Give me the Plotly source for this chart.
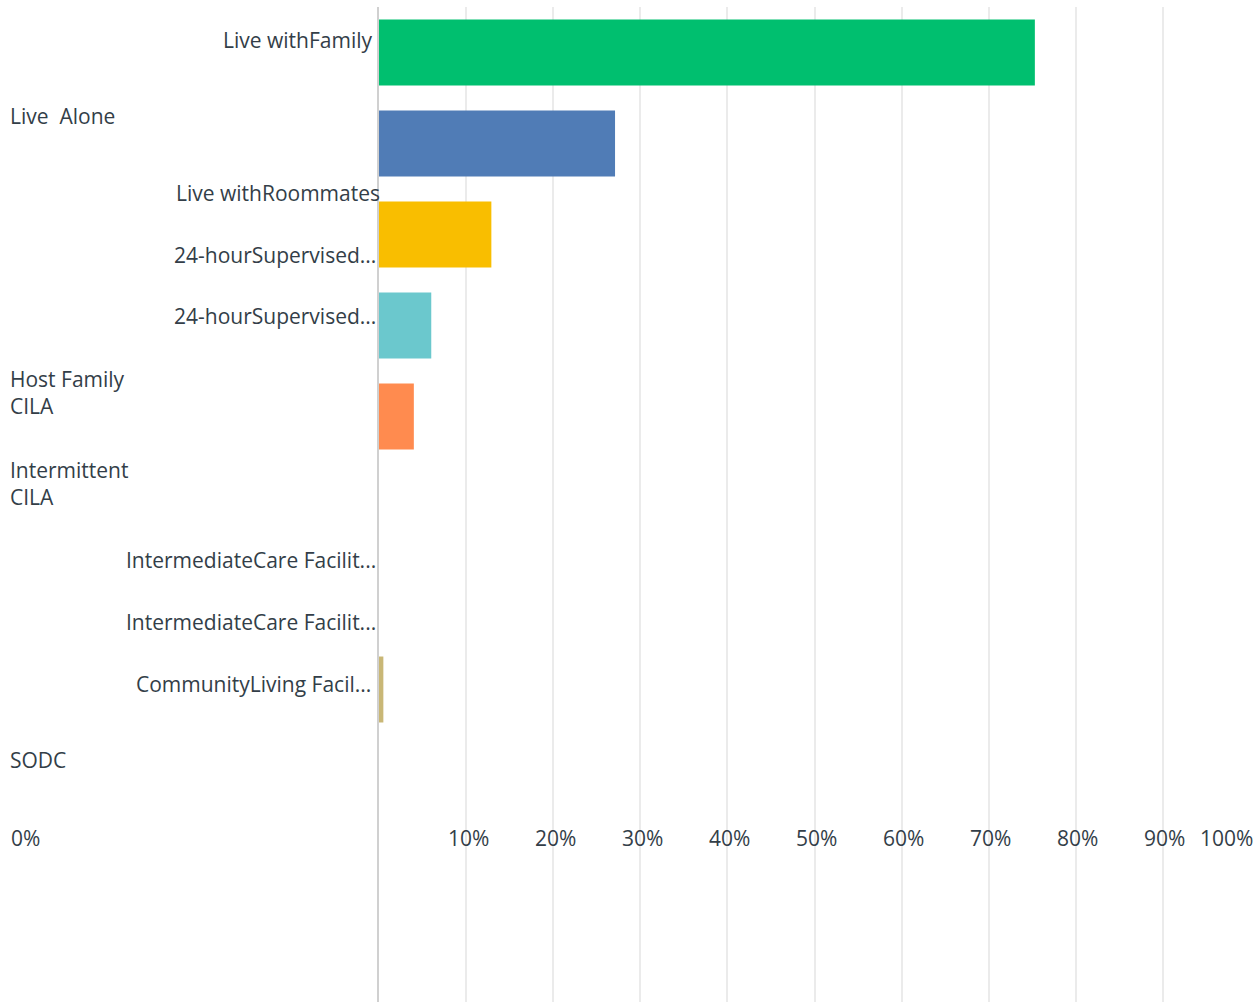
import plotly.graph_objects as go

# Survey answer choices, top to bottom, and share of respondents (%)
categories = [
    "Live withFamily",
    "Live  Alone",
    "Live withRoommates",
    "24-hourSupervised... (A)",
    "24-hourSupervised... (B)",
    "Host Family CILA",
    "Intermittent CILA",
    "IntermediateCare Facilit... (A)",
    "IntermediateCare Facilit... (B)",
    "CommunityLiving Facil...",
    "SODC",
]
shares = [75.3, 27.1, 12.9, 6.0, 4.0, 0.0, 0.0, 0.5, 0.0, 0.0, 0.0]
bar_colors = [
    "#00BF6F", "#507CB6", "#F9BE00", "#6BC8CD", "#FF8B4F",
    "#7D7CB8", "#E9707A", "#C9B776", "#A78A6B", "#9A9A9A", "#6B8E8E",
]
axis_labels = [
    "Live withFamily",
    "Live  Alone",
    "Live withRoommates",
    "24-hourSupervised...",
    "24-hourSupervised...",
    "Host Family<br>CILA",
    "Intermittent<br>CILA",
    "IntermediateCare Facilit...",
    "IntermediateCare Facilit...",
    "CommunityLiving Facil...",
    "SODC",
]
tick_values = [0, 10, 20, 30, 40, 50, 60, 70, 80, 90, 100]
tick_labels = ["0%", "10%", "20%", "30%", "40%", "50%", "60%", "70%", "80%", "90%", "100%"]

W, H = 1256, 1002
L, R, T, B = 379, 6, 7, 0
PW, PH = W - L - R, H - T - B

def px(x):
    return (x - L) / PW

def py(y):
    return (H - B - y) / PH

TEXT = "#333e48"
FONT = "Open Sans"
SIZE = 21

fig = go.Figure(
    go.Bar(
        x=shares,
        y=categories,
        orientation="h",
        marker=dict(color=bar_colors, line=dict(width=0)),
        hoverinfo="skip",
    )
)

# Category labels: (anchor x in px, anchor side, y centre in px)
label_layout = [
    (374, "right", 40),
    (8, "left", 116),
    (382, "right", 193),
    (378, "right", 255),
    (378, "right", 316),
    (8, "left", 392),
    (8, "left", 483),
    (378, "right", 560),
    (378, "right", 622),
    (373, "right", 684),
    (8, "left", 760),
]
annotations = []
for text, (x, side, y) in zip(axis_labels, label_layout):
    annotations.append(dict(
        text=text, x=px(x), y=py(y), xref="paper", yref="paper",
        xanchor=side, yanchor="middle", align="left", showarrow=False,
        font=dict(family=FONT, size=SIZE, color=TEXT),
    ))

# Percentage tick labels along one row
tick_centres = [25, 468, 555, 642, 729, 816, 903, 990, 1077, 1164, 1226]
for text, x in zip(tick_labels, tick_centres):
    annotations.append(dict(
        text=text, x=px(x), y=py(838), xref="paper", yref="paper",
        xanchor="center", yanchor="middle", showarrow=False,
        font=dict(family=FONT, size=SIZE, color=TEXT),
    ))

fig.update_layout(
    width=W, height=H,
    margin=dict(l=L, r=R, t=T, b=B, pad=0),
    paper_bgcolor="white", plot_bgcolor="white",
    showlegend=False,
    bargap=0.275,
    annotations=annotations,
    xaxis=dict(
        range=[0, 100], tickvals=tick_values, showticklabels=False,
        showgrid=True, gridcolor="#ebebeb", gridwidth=2,
        zeroline=False, showline=False, fixedrange=True,
    ),
    yaxis=dict(
        categoryorder="array", categoryarray=categories,
        range=[-0.5 + PH / 91, -0.5], showticklabels=False,
        showgrid=False, zeroline=False,
        showline=True, linecolor="#d0d0d0", linewidth=2, fixedrange=True,
    ),
)

fig.write_html("out.html")
